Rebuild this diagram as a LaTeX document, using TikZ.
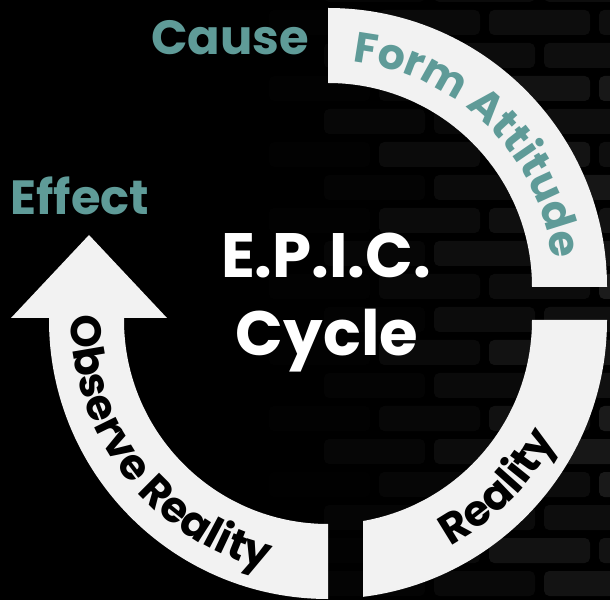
\documentclass[tikz,border=0pt]{standalone}
\usepackage{fontspec}
\setmainfont{Poppins}
\usetikzlibrary{decorations.text}

\definecolor{bandgray}{RGB}{242,242,242}
\definecolor{epicteal}{RGB}{95,155,152}
\definecolor{brickgray}{RGB}{44,44,44}
\newcommand\arcfont{\fontsize{32}{32}\selectfont\bfseries}

\tikzset{
  band/.style={fill=bandgray},
  tealtext/.style={font=\fontsize{36}{36}\selectfont\bfseries, text=epicteal, inner sep=0pt, anchor=base},
  titletext/.style={font=\fontsize{47}{47}\selectfont\bfseries, text=white, inner sep=0pt, anchor=base},
  arctext/.style={decorate, decoration={text along path, text align=center, text={#1}}}
}

\begin{document}
\begin{tikzpicture}[x=0.75pt,y=0.75pt]
%set diagram 610 x 600
\useasboundingbox (0,0) rectangle (610,600);
\fill[black] (0,0) rectangle (610,600);

%Bricks fading in from the left
\pgfmathsetseed{7}
\begin{scope}
\clip (0,0) rectangle (610,600);
\foreach \r in {0,...,18}{
  \pgfmathsetmacro\off{mod(\r,2)*55}
  \foreach \c in {0,...,5}{
    \pgfmathsetmacro\bx{210+\c*110-\off}
    \pgfmathsetmacro\op{max(0,min(1,(\bx-230)/330))*(0.3+0.35*rnd)}
    \fill[brickgray, fill opacity=\op, rounded corners=4pt] (\bx+4,\r*33+4) rectangle (\bx+105,\r*33+29);
  }
}
\end{scope}

\coordinate (top) at (328,313);
\coordinate (bot) at (328,280);

%Shape: Block Arc, top right
\fill[band] (328,592) arc[start angle=90, end angle=0, radius=279] -- (532,313) arc[start angle=0, end angle=90, radius=204] -- cycle;
%Shape: Block Arc, bottom right
\begin{scope}
\clip (363,0) rectangle (610,280);
\fill[band] (607,280) arc[start angle=0, end angle=-90, radius=279] -- (328,76) arc[start angle=-90, end angle=0, radius=204] -- cycle;
\end{scope}
%Shape: Curved Arrow, bottom left
\fill[band] (328,1) arc[start angle=270, end angle=180, radius=279] -- (49,282) -- (11,282) -- (89,365) -- (167,282) -- (124,282) -- (124,280) arc[start angle=180, end angle=270, radius=204] -- cycle;

%Text along the arcs
\path[arctext={|\arcfont\color{epicteal}|Form Attitude}] ([shift={(90.5:226)}]top) arc[start angle=90.5, end angle=0.5, radius=226];
\path[arctext={|\arcfont|Reality}] ([shift={(-89:257)}]bot) arc[start angle=-89, end angle=0, radius=257];
\path[arctext={|\arcfont|Observe Reality}] ([shift={(172.5:257)}]bot) arc[start angle=172.5, end angle=262.5, radius=257];

% Text Node
\node[tealtext] (cause) at (230,545) {Cause};
% Text Node
\node[tealtext] (effect) at (80,385) {Effect};
% Text Node
\node[titletext] (epic) at (326,322) {E.P.I.C.};
% Text Node
\node[titletext] (cycle) at (327,244) {Cycle};

\end{tikzpicture}
\end{document}
